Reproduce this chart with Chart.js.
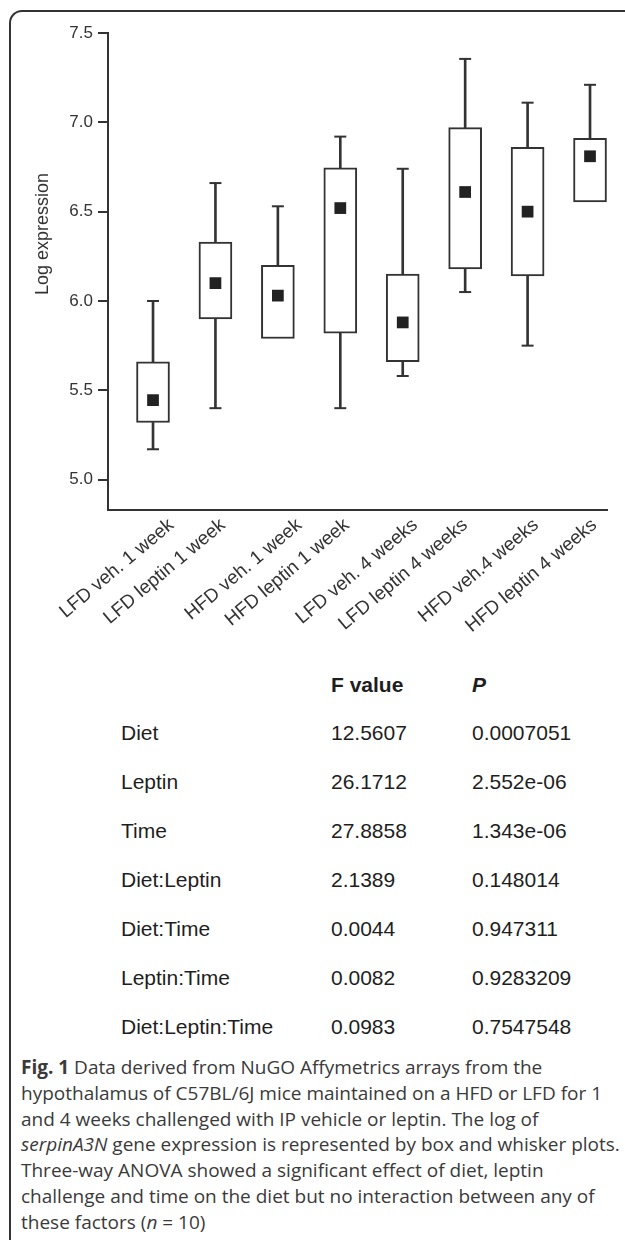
<!DOCTYPE html>
<html><head><meta charset="utf-8">
<script src="https://cdn.jsdelivr.net/npm/chart.js@4/dist/chart.umd.min.js"></script>
<style>
html,body{margin:0;padding:0;background:#fff;}
body{width:625px;height:1240px;overflow:hidden;position:relative;font-family:"Liberation Sans",Arial,sans-serif;}
#frame{position:absolute;left:9px;top:10px;width:700px;height:1300px;border-left:2px solid #333;border-top:2px solid #333;border-top-left-radius:13px;box-sizing:border-box;}
#wrap{position:absolute;left:0;top:0;width:625px;height:660px;}
.t{position:absolute;font-size:21px;color:#1e1e1e;line-height:24px;white-space:nowrap;}
.cap{position:absolute;left:21px;font-family:"Open Sans",sans-serif;font-size:19px;color:#3a3a3a;line-height:26px;white-space:nowrap;}
</style></head>
<body>
<div id="frame"></div>
<div id="wrap"><canvas id="c" width="625" height="660"></canvas></div>
<div id="tbl"></div>
<div id="caption"></div>
<script>
// ---- data ----
const categories = ["LFD veh. 1 week","LFD leptin 1 week","HFD veh. 1 week","HFD leptin 1 week","LFD veh. 4 weeks","LFD leptin 4 weeks","HFD veh.4 weeks","HFD leptin 4 weeks"];
const whiskerLow  = [5.17, 5.40, null, 5.40, 5.58, 6.05, 5.75, null];
const boxLow      = [5.32, 5.90, 5.79, 5.82, 5.66, 6.18, 6.14, 6.555];
const boxHigh     = [5.66, 6.33, 6.20, 6.745, 6.15, 6.97, 6.86, 6.91];
const whiskerHigh = [6.00, 6.66, 6.53, 6.92, 6.74, 7.355, 7.11, 7.21];
const means       = [5.445, 6.10, 6.03, 6.52, 5.88, 6.61, 6.50, 6.81];
const yTicks = [5.0, 5.5, 6.0, 6.5, 7.0, 7.5];
const yTitle = "Log expression";

const anovaTerms = ["Diet","Leptin","Time","Diet:Leptin","Diet:Time","Leptin:Time","Diet:Leptin:Time"];
const fValues = ["12.5607","26.1712","27.8858","2.1389","0.0044","0.0082","0.0983"];
const pValues = ["0.0007051","2.552e-06","1.343e-06","0.148014","0.947311","0.9283209","0.7547548"];

// horizontal nudge (px) of each rotated tick label's anchor (style)
const labelNudge = [18.5, 7.5, 21.5, 6.5, 12.5, 0, 8.5, 4.5];

const ink = '#333';
const xs = categories.map((c, i) => i + 1);

const boxData = xs.map((x, i) => ({x, y: [boxLow[i], boxHigh[i]]}));
const upWhisk = xs.map((x, i) => ({x, y: [boxHigh[i], whiskerHigh[i]]}));
const loWhisk = xs.map((x, i) => ({x, y: whiskerLow[i] == null ? null : [whiskerLow[i], boxLow[i]]}));
const caps = [];
xs.forEach((x, i) => {
  caps.push({x, y: whiskerHigh[i]});
  if (whiskerLow[i] != null) caps.push({x, y: whiskerLow[i]});
});
const meanPts = xs.map((x, i) => ({x, y: means[i]}));

const chart = new Chart(document.getElementById('c'), {
  type: 'bar',
  data: {
    datasets: [
      {type: 'bar', data: upWhisk, grouped: false, barThickness: 2, backgroundColor: ink, borderWidth: 0, order: 3},
      {type: 'bar', data: loWhisk, grouped: false, barThickness: 2, backgroundColor: ink, borderWidth: 0, order: 3},
      {type: 'bar', data: boxData, grouped: false, barThickness: 33, backgroundColor: '#fff', borderColor: ink, borderWidth: 2, borderSkipped: false, order: 2},
      {type: 'scatter', data: caps, pointStyle: 'line', pointRadius: 6, pointBorderWidth: 2, pointBorderColor: ink, order: 1},
      {type: 'scatter', data: meanPts, pointStyle: 'rect', pointRadius: 8.3, pointBackgroundColor: '#222', pointBorderWidth: 0, order: 0}
    ]
  },
  options: {
    responsive: false,
    animation: false,
    events: [],
    layout: {padding: {top: 33, right: 18, left: 0, bottom: 0}},
    plugins: {legend: {display: false}, tooltip: {enabled: false}},
    scales: {
      x: {
        type: 'linear',
        offset: false,
        min: 0.279, max: 8.272,
        afterBuildTicks: s => {
          const ppu = s.width > 0 ? s.width / (s.max - s.min) : 62.43;
          s.ticks = xs.map((v, i) => ({value: v + labelNudge[i] / ppu}));
        },
        afterFit: s => { s.height = 150; },
        grid: {display: false, drawTicks: false, offset: false},
        border: {display: true, color: ink, width: 2},
        ticks: {
          autoSkip: false, minRotation: 40, maxRotation: 40, padding: 4,
          color: ink, font: {family: '"Liberation Sans", Arial, sans-serif', size: 19},
          callback: (v, i) => categories[i]
        }
      },
      y: {
        type: 'linear',
        min: 4.83, max: 7.5,
        afterBuildTicks: s => { s.ticks = yTicks.map(v => ({value: v})); },
        afterFit: s => { s.width = 108; },
        grid: {drawOnChartArea: false, drawTicks: true, tickLength: 10, color: ink, lineWidth: 2},
        border: {display: true, color: ink, width: 2},
        ticks: {padding: 5, color: ink, font: {family: '"Liberation Sans", Arial, sans-serif', size: 17},
          callback: v => Number(v).toFixed(1)},
        title: {display: true, text: '\u00A0'.repeat(15) + yTitle, color: ink, padding: {top: 32, bottom: 0},
          font: {family: '"Liberation Sans", Arial, sans-serif', size: 18}}
      }
    }
  }
});

// ---- ANOVA table ----
const tbl = document.getElementById('tbl');
function addText(txt, left, cy, style) {
  const d = document.createElement('div');
  d.className = 't';
  d.style.left = left + 'px';
  d.style.top = (cy - 12) + 'px';
  if (style) d.style.cssText += style;
  d.textContent = txt;
  tbl.appendChild(d);
}
addText('F value', 331, 685, 'font-weight:bold;');
addText('P', 472, 685, 'font-weight:bold;font-style:italic;');
anovaTerms.forEach((t, i) => {
  const cy = 733 + i * 49;
  addText(t, 121, cy);
  addText(fValues[i], 331, cy);
  addText(pValues[i], 472, cy);
});

// ---- caption ----
const captionLines = [
  '<b>Fig. 1</b> Data derived from NuGO Affymetrics arrays from the',
  'hypothalamus of C57BL/6J mice maintained on a HFD or LFD for 1',
  'and 4 weeks challenged with IP vehicle or leptin. The log of',
  '<i>serpinA3N</i> gene expression is represented by box and whisker plots.',
  'Three-way ANOVA showed a significant effect of diet, leptin',
  'challenge and time on the diet but no interaction between any of',
  'these factors (<i>n</i> = 10)'
];
const cap = document.getElementById('caption');
captionLines.forEach((l, i) => {
  const d = document.createElement('div');
  d.className = 'cap';
  d.style.top = (1067 + i * 25.8 - 13) + 'px';
  d.innerHTML = l;
  cap.appendChild(d);
});
</script>
</body></html>
